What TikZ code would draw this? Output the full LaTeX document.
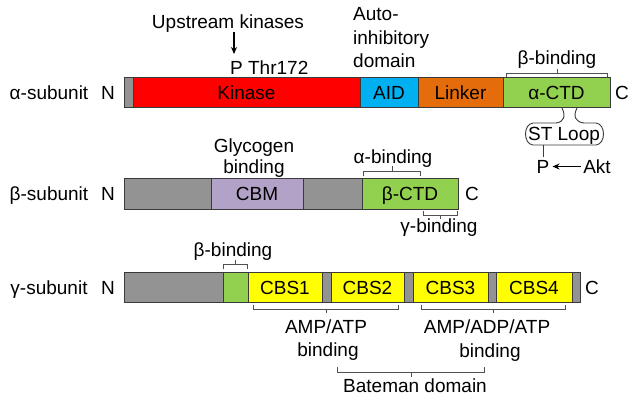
\documentclass[tikz,border=0pt]{standalone}
\usepackage{fontspec}
\setmainfont{Liberation Sans}
\usetikzlibrary{arrows.meta,calc}
\definecolor{segGray}{HTML}{939393}
\definecolor{segLine}{HTML}{3A3A3A}
\definecolor{brkLine}{HTML}{505050}
\definecolor{kinRed}{HTML}{FF0000}
\definecolor{aidBlue}{HTML}{00B0F0}
\definecolor{linkOrange}{HTML}{E46C0A}
\definecolor{ctdGreen}{HTML}{92D050}
\definecolor{cbmLav}{HTML}{B3A2C7}
\definecolor{cbsYellow}{HTML}{FFFF00}
\begin{document}
\begin{tikzpicture}[x=1pt,y=-1pt,
  txt/.style={font=\fontsize{19}{23}\selectfont, inner sep=0pt, text=black},
  captxt/.style={txt, text height=13.6pt, text depth=0pt},
  seg/.style={draw=segLine, line width=0.9pt, minimum height=30.5pt, inner sep=0pt, outer sep=0pt,
              anchor=west, font=\fontsize{19}{23}\selectfont, text height=13.6pt, text depth=0pt},
  brk/.style={draw=brkLine, line width=0.9pt},
  arr/.style={-{Stealth[length=7pt,width=6pt]}, line width=1.1pt, draw=black}]
\useasboundingbox (0,0) rectangle (633,400);

% ---------------- alpha subunit ----------------
\node[captxt, anchor=center] (alab) at (49,92.5) {α-subunit};
\node[captxt, anchor=center] (aN) at (108,92.5) {N};
\node[seg, fill=segGray, minimum width=8.5pt] (a0) at (124.5,92.5) {};
\node[seg, fill=kinRed, minimum width=227pt] (a1) at (133,92.5) {Kinase};
\node[seg, fill=aidBlue, minimum width=58pt] (a2) at (360,92.5) {AID};
\node[seg, fill=linkOrange, minimum width=85pt] (a3) at (418,92.5) {Linker};
\node[seg, fill=ctdGreen, minimum width=107pt] (a4) at (503,92.5) {α-CTD};
\node[captxt, anchor=center] (aC) at (622,92.5) {C};

\node[txt, anchor=base] (up) at (228,28.3) {Upstream kinases};
\node[txt, anchor=base west] (thr) at (230,74) {P Thr172};
\coordinate (upA) at (234,32);
\coordinate (upB) at (234,54);
\draw[arr] (upA) -- (upB);

\node[txt, anchor=base west] (auto1) at (353,20.5) {Auto-};
\node[txt, anchor=base west] (auto2) at (353,44) {inhibitory};
\node[txt, anchor=base west] (auto3) at (353,67.5) {domain};

\node[txt, anchor=base] (abb) at (557,64) {β-binding};
\draw[brk] (506,77) -- (506,73) -- (607,73) -- (607,77);
\draw[brk] (557,73) -- (557,69);

% ST loop
\draw[brk, draw=segLine]
  (562,108) .. controls (566,116) and (564,122) .. (556,123)
  -- (533,123) .. controls (523,124) and (523,144) .. (533,145)
  -- (596,145) .. controls (606,144) and (606,124) .. (596,123)
  -- (584,123) .. controls (575,122) and (573,116) .. (577,108);
\node[captxt, anchor=center] (st) at (564,134) {ST Loop};
\node[captxt, anchor=center, inner xsep=3pt, inner ysep=3pt] (pst) at (543,166.5) {P};
\node[captxt, anchor=center, inner xsep=2pt] (akt) at (597,166.5) {Akt};
\coordinate (loopB) at (543,145);
\draw[brk, draw=segLine] (loopB) -- (pst.north);
\draw[arr] (akt.west) -- (pst.east);

% ---------------- beta subunit ----------------
\node[captxt, anchor=center] (blab) at (49,194) {β-subunit};
\node[captxt, anchor=center] (bN) at (108,194) {N};
\node[seg, fill=segGray, minimum width=87pt] (b0) at (124,194) {};
\node[seg, fill=cbmLav, minimum width=92pt] (b1) at (211,194) {CBM};
\node[seg, fill=segGray, minimum width=59pt] (b2) at (303,194) {};
\node[seg, fill=ctdGreen, minimum width=96pt] (b3) at (362,194) {β-CTD};
\node[captxt, anchor=center] (bC) at (472,194) {C};

\node[txt, anchor=base] (gly1) at (254,152) {Glycogen};
\node[txt, anchor=base] (gly2) at (254,173) {binding};

\node[txt, anchor=base] (bab) at (393,163) {α-binding};
\draw[brk] (363,176) -- (363,171) -- (420,171) -- (420,176);
\draw[brk] (392,171) -- (392,166);

\draw[brk] (423,211) -- (423,215) -- (457,215) -- (457,211);
\draw[brk] (440,215) -- (440,219);
\node[txt, anchor=base] (bgb) at (439,232) {γ-binding};

% ---------------- gamma subunit ----------------
\node[captxt, anchor=center] (glab) at (49,287.5) {γ-subunit};
\node[captxt, anchor=center] (gN) at (108,287.5) {N};
\node[seg, fill=segGray, minimum width=99pt] (g0) at (124,287.5) {};
\node[seg, fill=ctdGreen, minimum width=25pt] (g1) at (223,287.5) {};
\node[seg, fill=cbsYellow, minimum width=74pt] (g2) at (248,287.5) {CBS1};
\node[seg, fill=segGray, minimum width=9pt] (g3) at (322,287.5) {};
\node[seg, fill=cbsYellow, minimum width=73pt] (g4) at (331,287.5) {CBS2};
\node[seg, fill=segGray, minimum width=9pt] (g5) at (404,287.5) {};
\node[seg, fill=cbsYellow, minimum width=75pt] (g6) at (413,287.5) {CBS3};
\node[seg, fill=segGray, minimum width=8pt] (g7) at (488,287.5) {};
\node[seg, fill=cbsYellow, minimum width=76pt] (g8) at (496,287.5) {CBS4};
\node[seg, fill=segGray, minimum width=8pt] (g9) at (572,287.5) {};
\node[captxt, anchor=center] (gC) at (592,287.5) {C};

\node[txt, anchor=base] (gbb) at (233,256.5) {β-binding};
\draw[brk] (223,269) -- (223,264) -- (247,264) -- (247,269);
\draw[brk] (235,264) -- (235,260);

\draw[brk] (253,305) -- (253,309) -- (398,309) -- (398,305);
\draw[brk] (326,309) -- (326,313);
\node[txt, anchor=base] (amp1) at (326,333) {AMP/ATP};
\node[txt, anchor=base] (amp2) at (328,356) {binding};

\draw[brk] (421,305) -- (421,309) -- (565,309) -- (565,305);
\draw[brk] (493,309) -- (493,313);
\node[txt, anchor=base] (adp1) at (487,333) {AMP/ADP/ATP};
\node[txt, anchor=base] (adp2) at (490,357) {binding};

\draw[brk] (337,367) -- (337,372) -- (484,372) -- (484,367);
\draw[brk] (411,372) -- (411,377);
\node[txt, anchor=base] (bat) at (415,392) {Bateman domain};
\end{tikzpicture}
\end{document}
